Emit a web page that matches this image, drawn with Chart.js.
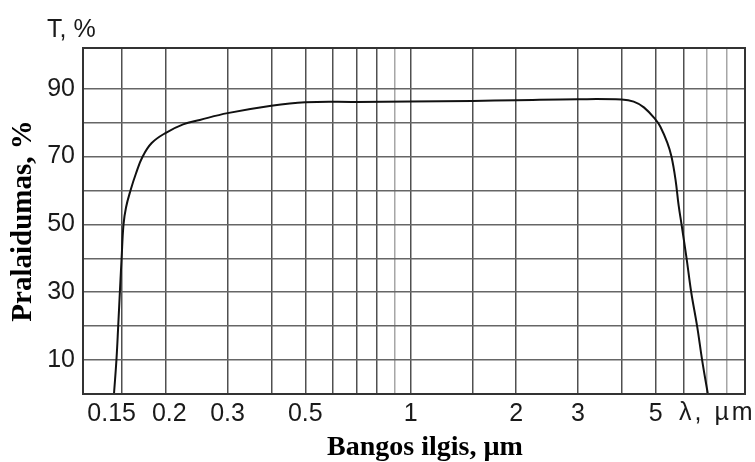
<!DOCTYPE html>
<html>
<head>
<meta charset="utf-8">
<script src="https://cdn.jsdelivr.net/npm/chart.js@4.4.1/dist/chart.umd.min.js"></script>
<style>
    body { margin: 0; background: #fff; }
    #wrap { width: 755px; height: 462px; }
</style>
</head>
<body>
<div id="wrap"><canvas id="transChart"></canvas></div>
<script>
/* ================================
   DUOMENYS
================================ */
// bangos ilgis, µm
const WAVELENGTH = [0.1422, 0.1445, 0.1462, 0.1478, 0.1495, 0.1514, 0.1539, 0.1585, 0.1643, 0.1717,
                    0.1822, 0.2, 0.224, 0.25, 0.3, 0.4, 0.5, 0.7, 1, 1.5,
                    2, 3, 4, 4.33, 4.63, 5.0, 5.16, 5.4, 5.55, 5.7,
                    5.82, 5.93, 6.13, 6.32, 6.57, 6.79, 7.05];
// pralaidumas, %
const TRANSMITTANCE = [0, 10, 20, 30, 40, 50, 55, 60, 65, 70,
                       74, 77, 79.5, 80.8, 82.8, 85, 86, 86.1, 86.2, 86.4,
                       86.6, 86.9, 86.8, 86.2, 84.5, 80.9, 78.8, 74.1, 70, 63.2,
                       55.5, 50, 40, 30, 20, 10, 0];

const X_GRID = [0.15, 0.2, 0.3, 0.4, 0.5, 0.6, 0.7, 0.8, 0.9, 1, 1.5, 2, 3, 4, 5, 6, 7, 8];
// 0.15 ir 0.2 stovi per arti, todėl jų užrašai šiek tiek pastumti tarpais
const X_LABELS = { 0.15: '0.15   ', 0.2: ' 0.2', 0.3: '0.3', 0.5: '0.5', 1: '1', 2: '2', 3: '3', 5: '5' };
const X_LIGHT = [0.9, 7, 8];
const Y_GRID = [10, 20, 30, 40, 50, 60, 70, 80, 90];
const Y_LABELS = [10, 30, 50, 70, 90];

const SANS = "'Liberation Sans', Arial, sans-serif";
const SERIF = "'Liberation Serif', 'Times New Roman', serif";

// rėmelis, ašies pavadinimas ir papildomi užrašai (T, % ir λ, µm)
const framePlugin = {
    id: 'frame',
    afterDraw(chart) {
        const { ctx, chartArea: a } = chart;
        ctx.save();
        ctx.strokeStyle = '#333';
        ctx.lineWidth = 2;
        ctx.strokeRect(a.left, a.top, a.right - a.left, a.bottom - a.top);

        ctx.fillStyle = '#1a1a1a';
        ctx.font = '25px ' + SANS;
        ctx.textBaseline = 'alphabetic';
        ctx.textAlign = 'left';
        ctx.fillText('T, %', 47, 37);
        ctx.letterSpacing = '3px';
        ctx.fillText('λ, µm', 679, 420);
        ctx.letterSpacing = '0px';

        ctx.fillStyle = '#000';
        ctx.font = 'bold 28px ' + SERIF;
        ctx.textAlign = 'center';
        ctx.fillText('Bangos ilgis, µm', 425, 455);
        ctx.restore();
    }
};

function initChart() {
    const ctx = document.getElementById('transChart').getContext('2d');
    new Chart(ctx, {
        type: 'line',
        data: {
            datasets: [{
                data: WAVELENGTH.map((x, i) => ({ x: x, y: TRANSMITTANCE[i] })),
                borderColor: '#111',
                borderWidth: 2,
                pointRadius: 0,
                tension: 0.4,
                fill: false
            }]
        },
        options: {
            responsive: true,
            maintainAspectRatio: false,
            animation: false,
            layout: { padding: { top: 48, right: 10, left: 0, bottom: 0 } },
            plugins: { legend: { display: false }, tooltip: { enabled: false } },
            scales: {
                x: {
                    type: 'logarithmic',
                    min: 0.116,
                    max: 9,
                    afterBuildTicks: (scale) => { scale.ticks = X_GRID.map(v => ({ value: v })); },
                    afterFit: (scale) => { scale.height = 68; },
                    border: { display: false },
                    grid: {
                        drawTicks: false,
                        lineWidth: 1.5,
                        color: (c) => X_LIGHT.includes(c.tick && c.tick.value) ? '#a6a6a6' : '#505050'
                    },
                    ticks: {
                        autoSkip: false,
                        maxRotation: 0,
                        padding: 5,
                        color: '#1a1a1a',
                        font: { family: SANS, size: 25 },
                        callback: (v) => X_LABELS[v] || ''
                    }
                },
                y: {
                    min: 0,
                    max: 102,
                    afterBuildTicks: (scale) => { scale.ticks = Y_GRID.map(v => ({ value: v })); },
                    afterFit: (scale) => { scale.width = 83; },
                    border: { display: false },
                    grid: { drawTicks: false, lineWidth: 1.5, color: '#666' },
                    ticks: {
                        padding: 8,
                        color: '#1a1a1a',
                        font: { family: SANS, size: 25 },
                        callback: (v) => Y_LABELS.includes(v) ? String(v) : ''
                    },
                    title: {
                        display: true,
                        text: 'Pralaidumas, %',
                        color: '#000',
                        font: { family: SERIF, size: 29, weight: 'bold' },
                        padding: { top: 6, bottom: 0 }
                    }
                }
            }
        },
        plugins: [framePlugin]
    });
}

window.onload = initChart;
</script>
</body>
</html>
